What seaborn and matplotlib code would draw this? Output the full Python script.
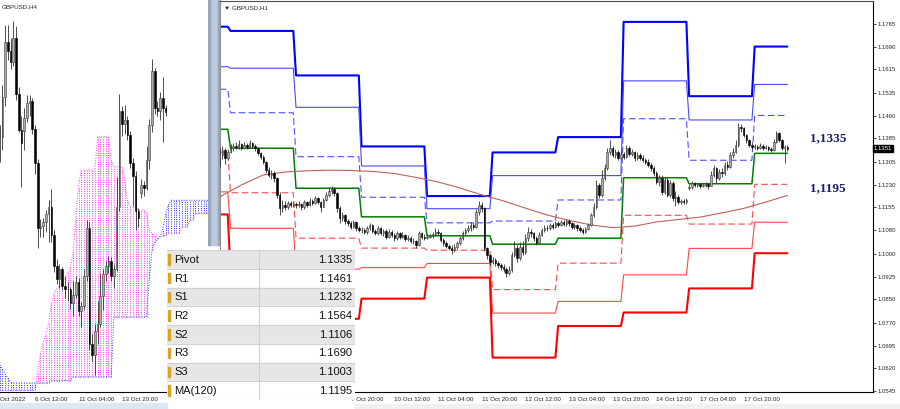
import numpy as np
import pandas as pd
import seaborn as sns
import matplotlib.pyplot as plt
from matplotlib.patches import Rectangle

sns.set_style('white')
plt.rcParams['font.family'] = ['Liberation Sans', 'DejaVu Sans']

# ---------------- data ----------------
# H1 bars: bar 0 = 6 Oct 00:00, last bar 204 = 18 Oct 12:00
day_bars = [4, 24, 24, 24, 24, 24, 24, 24, 24, 13]  # 5 Oct tail, 6,7,10,11,12,13,14,17,18 Oct
r3 = [1.1756, 1.1742, 1.1594, 1.1358, 1.1193, 1.1338, 1.1389, 1.1772, 1.1525, 1.1690]
r2 = [1.1623, 1.1618, 1.1488, 1.1293, 1.1151, 1.1261, 1.1261, 1.1576, 1.1446, 1.1564]
r1 = [1.1548, 1.1470, 1.1324, 1.1189, 1.1104, 1.1110, 1.1180, 1.1450, 1.1312, 1.1461]
pivot = [1.1415, 1.1352, 1.1219, 1.1124, 1.1061, 1.1033, 1.1053, 1.1254, 1.1234, 1.1335]
s1 = [1.1339, 1.1204, 1.1053, 1.1020, 1.1013, 1.0882, 1.0970, 1.1129, 1.1100, 1.1232]
s2 = [1.1207, 1.1086, 1.0950, 1.0955, 1.0969, 1.0804, 1.0843, 1.0931, 1.1019, 1.1106]
s3 = [1.1132, 1.0938, 1.0785, 1.0852, 1.0922, 1.0656, 1.0761, 1.0806, 1.0886, 1.1003]

h1_close = [
    1.1330, 1.1346, 1.1318, 1.1341,
    1.1352, 1.1361, 1.1357, 1.1365, 1.1354, 1.1363, 1.1357, 1.1368, 1.1361, 1.1352, 1.1335, 1.1324,
    1.1307, 1.1280, 1.1263, 1.1269, 1.1252, 1.1197, 1.1152, 1.1163, 1.1158, 1.1169, 1.1163, 1.1166,
    1.1162, 1.1166, 1.1155, 1.1172, 1.1163, 1.1177, 1.1169, 1.1185, 1.1172, 1.1158, 1.1180, 1.1197,
    1.1210, 1.1217, 1.1202, 1.1152, 1.1119, 1.1130, 1.1110, 1.1102, 1.1091, 1.1106, 1.1086, 1.1080,
    1.1080, 1.1075, 1.1086, 1.1097, 1.1077, 1.1069, 1.1086, 1.1069, 1.1077, 1.1058, 1.1075, 1.1064,
    1.1053, 1.1069, 1.1058, 1.1064, 1.1050, 1.1055, 1.1044, 1.1042, 1.1031, 1.1069, 1.1058, 1.1055,
    1.1058, 1.1061, 1.1066, 1.1075, 1.1069, 1.1047, 1.1036, 1.1028, 1.1022, 1.1014, 1.1025, 1.1036,
    1.1053, 1.1069, 1.1080, 1.1086, 1.1097, 1.1091, 1.1141, 1.1163, 1.1152, 1.1019, 1.0997, 1.0975,
    1.0981, 1.0969, 1.0964, 1.0958, 1.0951, 1.0936, 1.0947, 1.0997, 1.1019, 1.0986, 1.1025, 1.1008,
    1.1053, 1.1075, 1.1069, 1.1053, 1.1036, 1.1064, 1.1080, 1.1088, 1.1086, 1.1097, 1.1091, 1.1102,
    1.1097, 1.1106, 1.1099, 1.1110, 1.1102, 1.1091, 1.1097, 1.1086, 1.1080, 1.1075, 1.1084, 1.1097,
    1.1130, 1.1158, 1.1230, 1.1197, 1.1252, 1.1285, 1.1341, 1.1352, 1.1330, 1.1338, 1.1321, 1.1332,
    1.1324, 1.1352, 1.1332, 1.1338, 1.1318, 1.1330, 1.1321, 1.1313, 1.1307, 1.1296, 1.1285, 1.1269,
    1.1241, 1.1252, 1.1208, 1.1247, 1.1197, 1.1235, 1.1185, 1.1191, 1.1172, 1.1177, 1.1172, 1.1180,
    1.1224, 1.1235, 1.1230, 1.1232, 1.1228, 1.1230, 1.1234, 1.1228, 1.1263, 1.1285, 1.1252, 1.1274,
    1.1269, 1.1296, 1.1291, 1.1330, 1.1341, 1.1363, 1.1424, 1.1418, 1.1396, 1.1379, 1.1363, 1.1357,
    1.1357, 1.1354, 1.1361, 1.1352, 1.1356, 1.1349, 1.1346, 1.1374, 1.1402, 1.1379, 1.1352, 1.1357,
    1.1351,
]
h1_high = [
    1.1352, 1.1358, 1.1352, 1.1350,
    1.1366, 1.1370, 1.1372, 1.1378, 1.1370, 1.1372, 1.1370, 1.1378, 1.1374, 1.1366, 1.1356, 1.1340,
    1.1330, 1.1310, 1.1288, 1.1280, 1.1275, 1.1255, 1.1205, 1.1180, 1.1175, 1.1178, 1.1175, 1.1174,
    1.1172, 1.1176, 1.1170, 1.1180, 1.1178, 1.1186, 1.1182, 1.1192, 1.1190, 1.1178, 1.1188, 1.1208,
    1.1222, 1.1226, 1.1222, 1.1208, 1.1160, 1.1140, 1.1135, 1.1118, 1.1110, 1.1113, 1.1110, 1.1095,
    1.1090, 1.1088, 1.1094, 1.1105, 1.1100, 1.1085, 1.1094, 1.1090, 1.1085, 1.1082, 1.1082, 1.1080,
    1.1070, 1.1076, 1.1074, 1.1072, 1.1068, 1.1064, 1.1060, 1.1055, 1.1048, 1.1078, 1.1074, 1.1066,
    1.1066, 1.1068, 1.1074, 1.1086, 1.1082, 1.1072, 1.1052, 1.1042, 1.1035, 1.1030, 1.1032, 1.1044,
    1.1060, 1.1076, 1.1088, 1.1097, 1.1106, 1.1108, 1.1150, 1.1176, 1.1172, 1.1158, 1.1025, 1.1002,
    1.0992, 1.0988, 1.0978, 1.0972, 1.0966, 1.0958, 1.0960, 1.1008, 1.1045, 1.1030, 1.1040, 1.1045,
    1.1066, 1.1090, 1.1082, 1.1075, 1.1060, 1.1072, 1.1088, 1.1096, 1.1096, 1.1104, 1.1104, 1.1110,
    1.1110, 1.1114, 1.1112, 1.1118, 1.1116, 1.1106, 1.1104, 1.1100, 1.1092, 1.1088, 1.1090, 1.1104,
    1.1138, 1.1170, 1.1245, 1.1236, 1.1280, 1.1300, 1.1352, 1.1380, 1.1360, 1.1350, 1.1345, 1.1340,
    1.1340, 1.1362, 1.1358, 1.1348, 1.1344, 1.1340, 1.1336, 1.1330, 1.1320, 1.1315, 1.1302, 1.1292,
    1.1276, 1.1262, 1.1262, 1.1258, 1.1255, 1.1246, 1.1242, 1.1210, 1.1196, 1.1184, 1.1182, 1.1186,
    1.1232, 1.1242, 1.1240, 1.1238, 1.1236, 1.1236, 1.1240, 1.1238, 1.1275, 1.1296, 1.1290, 1.1282,
    1.1286, 1.1305, 1.1310, 1.1340, 1.1352, 1.1380, 1.1436, 1.1434, 1.1422, 1.1400, 1.1384, 1.1372,
    1.1366, 1.1364, 1.1368, 1.1366, 1.1364, 1.1360, 1.1356, 1.1384, 1.1408, 1.1405, 1.1384, 1.1364,
    1.1362,
]
h1_low = [
    1.1290, 1.1316, 1.1300, 1.1312,
    1.1335, 1.1344, 1.1348, 1.1350, 1.1345, 1.1348, 1.1350, 1.1352, 1.1354, 1.1342, 1.1328, 1.1315,
    1.1298, 1.1270, 1.1255, 1.1250, 1.1240, 1.1185, 1.1130, 1.1140, 1.1148, 1.1150, 1.1155, 1.1157,
    1.1152, 1.1155, 1.1148, 1.1150, 1.1156, 1.1160, 1.1162, 1.1165, 1.1165, 1.1140, 1.1155, 1.1175,
    1.1190, 1.1200, 1.1192, 1.1140, 1.1105, 1.1110, 1.1100, 1.1092, 1.1083, 1.1086, 1.1078, 1.1072,
    1.1070, 1.1066, 1.1068, 1.1080, 1.1070, 1.1062, 1.1064, 1.1062, 1.1060, 1.1050, 1.1052, 1.1056,
    1.1045, 1.1048, 1.1050, 1.1052, 1.1042, 1.1044, 1.1036, 1.1032, 1.1020, 1.1028, 1.1050, 1.1048,
    1.1049, 1.1052, 1.1055, 1.1060, 1.1062, 1.1040, 1.1028, 1.1020, 1.1014, 1.1002, 1.1008, 1.1018,
    1.1030, 1.1048, 1.1060, 1.1072, 1.1078, 1.1082, 1.1088, 1.1130, 1.1140, 1.1010, 1.0985, 1.0965,
    1.0968, 1.0960, 1.0955, 1.0948, 1.0940, 1.0925, 1.0930, 1.0942, 1.0990, 1.0975, 1.0980, 1.0998,
    1.1002, 1.1045, 1.1058, 1.1045, 1.1030, 1.1034, 1.1060, 1.1072, 1.1078, 1.1080, 1.1084, 1.1086,
    1.1090, 1.1092, 1.1092, 1.1095, 1.1095, 1.1084, 1.1085, 1.1078, 1.1072, 1.1066, 1.1070, 1.1080,
    1.1094, 1.1125, 1.1150, 1.1185, 1.1190, 1.1245, 1.1280, 1.1330, 1.1322, 1.1320, 1.1312, 1.1315,
    1.1316, 1.1320, 1.1325, 1.1326, 1.1310, 1.1312, 1.1314, 1.1305, 1.1298, 1.1288, 1.1276, 1.1260,
    1.1232, 1.1225, 1.1198, 1.1200, 1.1190, 1.1190, 1.1176, 1.1160, 1.1165, 1.1168, 1.1166, 1.1168,
    1.1212, 1.1218, 1.1222, 1.1224, 1.1220, 1.1222, 1.1224, 1.1215, 1.1225, 1.1255, 1.1238, 1.1245,
    1.1258, 1.1262, 1.1280, 1.1285, 1.1318, 1.1335, 1.1355, 1.1405, 1.1388, 1.1370, 1.1355, 1.1348,
    1.1350, 1.1346, 1.1350, 1.1345, 1.1348, 1.1342, 1.1338, 1.1344, 1.1370, 1.1372, 1.1345, 1.1302,
    1.1344,
]
h1_session_open = {-4: 1.1320, 168: 1.1220}

ma120_bar = [-4, 4, 12, 20, 28, 36, 44, 52, 60, 68, 76, 84, 92, 100, 108, 116, 124, 132, 140,
             148, 156, 164, 172, 180, 188, 196, 204]
ma120 = [1.1190, 1.1230, 1.1263, 1.1273, 1.1277, 1.1279, 1.1278, 1.1275, 1.1268, 1.1255, 1.1240,
         1.1220, 1.1197, 1.1177, 1.1153, 1.1130, 1.1112, 1.1097, 1.1088, 1.1093, 1.1107, 1.1115,
         1.1123, 1.1137, 1.1152, 1.1173, 1.1195]

h1_tick_bar = [44, 60, 76, 92, 108, 124, 140, 156, 172, 188]
h1_tick_lab = ['7 Oct 20:00', '10 Oct 12:00', '11 Oct 04:00', '11 Oct 20:00', '12 Oct 12:00',
               '13 Oct 04:00', '13 Oct 20:00', '14 Oct 12:00', '17 Oct 04:00', '17 Oct 20:00']
price_ticks = [1.1765, 1.1690, 1.1615, 1.1535, 1.1460, 1.1385, 1.1305, 1.1230, 1.1155, 1.1080,
               1.1000, 1.0925, 1.0850, 1.0770, 1.0695, 1.0620, 1.0545]

# H4: bar 0 = 6 Oct 12:00. Bars -13..-5 read directly, later ones built from H1
h4_early_bar = [-13, -12, -11, -10, -9, -8, -7, -6, -5]
h4_early_open = [1.1290, 1.1310, 1.1375, 1.1465, 1.1450, 1.1432, 1.1470, 1.1380, 1.1322]
h4_early_high = [1.1330, 1.1395, 1.1492, 1.1492, 1.1470, 1.1498, 1.1490, 1.1392, 1.1345]
h4_early_low = [1.1270, 1.1290, 1.1360, 1.1435, 1.1420, 1.1425, 1.1370, 1.1318, 1.1230]
h4_early_close = [1.1310, 1.1375, 1.1465, 1.1450, 1.1432, 1.1470, 1.1380, 1.1322, 1.1300]
h4_tick_bar = [0, 16, 32]
h4_tick_lab = ['6 Oct 12:00', '11 Oct 04:00', '13 Oct 20:00']

# Ichimoku cloud (H4 bars -13..64)
senkou_a = ([1.0941, 1.0935, 1.0927, 1.0920, 1.0914] + [1.0912] * 14 + [1.0916] * 8 + [1.0922] * 15
            + [1.1019] * 13 + [1.1080, 1.1127, 1.1140, 1.1145, 1.1149, 1.1160, 1.1185, 1.1200]
            + [1.1208] * 15)
senkou_b = ([1.0900] * 14 + [1.0930, 1.0960, 1.0977, 1.0990, 1.1009, 1.1040, 1.1057, 1.1065, 1.1070,
                             1.1075, 1.1079, 1.1090, 1.1100, 1.1122, 1.1180, 1.1230]
            + [1.1257] * 6 + [1.1311] * 5 + [1.1273] + [1.1262] * 4 + [1.1240, 1.1208] + [1.1197] * 3
            + [1.1192] * 3 + [1.1187, 1.1160, 1.1155] + [1.1149] * 3 + [1.1150, 1.1152] + [1.1155] * 5
            + [1.1165] * 3 + [1.1176] * 2 + [1.1187] * 6)

table_names = ['Pivot', 'R1', 'S1', 'R2', 'S2', 'R3', 'S3', 'MA(120)']
table_values = ['1.1335', '1.1461', '1.1232', '1.1564', '1.1106', '1.1690', '1.1003', '1.1195']

# ---------------- frames ----------------
h1 = pd.DataFrame({'bar': np.arange(-4, 205), 'close': h1_close, 'high': h1_high, 'low': h1_low})
h1['open'] = h1['close'].shift(1)
for b, o in h1_session_open.items():
    h1.loc[h1['bar'] == b, 'open'] = o
h1['h4'] = h1['bar'] // 4 - 3
h4_late = h1.groupby('h4').agg(open=('open', 'first'), high=('high', 'max'),
                               low=('low', 'min'), close=('close', 'last')).reset_index()
h4_first = pd.DataFrame({'h4': h4_early_bar, 'open': h4_early_open, 'high': h4_early_high,
                         'low': h4_early_low, 'close': h4_early_close})
h4 = pd.concat([h4_first, h4_late], ignore_index=True)

levels = pd.DataFrame({'bar': h1['bar']})
for name, vals in [('r3', r3), ('r2', r2), ('r1', r1), ('p', pivot), ('s1', s1), ('s2', s2), ('s3', s3)]:
    levels[name] = np.repeat(vals, day_bars)

cloud = pd.DataFrame({'bar': np.arange(-13, 65), 'a': senkou_a, 'b': senkou_b})


def candles(ax, x, o, h, l, c, width):
    x, o, h, l, c = [np.asarray(v, dtype=float) for v in (x, o, h, l, c)]
    up = c >= o
    ax.vlines(x, l, h, color='#303030', lw=0.6, zorder=4)
    lo = np.minimum(o, c)
    ht = np.maximum(np.abs(c - o), 0.0001)
    ax.bar(x[up], ht[up], width, bottom=lo[up], color='#ababab', edgecolor='#3a3a3a', lw=0.4, zorder=5)
    ax.bar(x[~up], ht[~up], width, bottom=lo[~up], color='black', edgecolor='black', lw=0.4, zorder=5)


W, H = 900, 409
fig = plt.figure(figsize=(9, 4.09), dpi=100)


def px_axes(x0, y0, x1, y1, z):
    return fig.add_axes([x0 / W, 1 - y1 / H, (x1 - x0) / W, (y1 - y0) / H], zorder=z)


# background bits: splitter and bottom strips
bg = fig.add_axes([0, 0, 1, 1], zorder=0)
bg.set_xlim(0, W)
bg.set_ylim(H, 0)
bg.axis('off')
bg.add_patch(Rectangle((208, 0), 12, 245, color='#bccadb'))
bg.add_patch(Rectangle((208, 0), 2, 245, color='#97a6b8'))
bg.add_patch(Rectangle((218, 0), 2, 245, color='#97a6b8'))
bg.add_patch(Rectangle((0, 403), 167, 6, color='#dde7f1'))
bg.add_patch(Rectangle((355, 404), 545, 5, color='#f0f0f0'))

# ---------------- left: H4 with cloud ----------------
axl = px_axes(0, 0, 208, 392, 1)
axl.set_xlim(-12.87, 63.6)
axl.set_ylim(1.08975, 1.15323)
bull = cloud['a'] >= cloud['b']
axl.vlines(cloud['bar'][bull], cloud['b'][bull], cloud['a'][bull], color='#3030ff', lw=0.7,
           linestyles=(0, (1, 1.3)), zorder=1)
axl.vlines(cloud['bar'][~bull], cloud['a'][~bull], cloud['b'][~bull], color='#ff30ff', lw=0.7,
           linestyles=(0, (1, 1.3)), zorder=1)
sns.lineplot(data=cloud, x='bar', y='a', ax=axl, color='#3030ff', lw=0.7, linestyle=':',
             estimator=None, sort=False, zorder=2)
sns.lineplot(data=cloud, x='bar', y='b', ax=axl, color='#ff30ff', lw=0.7, linestyle=':',
             estimator=None, sort=False, zorder=2)
candles(axl, h4['h4'], h4['open'], h4['high'], h4['low'], h4['close'], 0.6)
for sp in ['top', 'left', 'right']:
    axl.spines[sp].set_visible(False)
axl.spines['bottom'].set_color('black')
axl.spines['bottom'].set_linewidth(0.8)
axl.set_yticks([])
axl.set_xticks(h4_tick_bar)
axl.set_xticklabels(h4_tick_lab, fontsize=4.5, ha='left')
axl.tick_params(axis='x', length=2, pad=1.5, width=0.6)
axl.text(0.002, -0.012, 'Oct 2022', transform=axl.transAxes, fontsize=4.5,
         ha='left', va='top', clip_on=False)
axl.text(0.008, 0.988, 'GBPUSD,H4', transform=axl.transAxes, fontsize=4.5, va='top')
axl.set_xlabel('')
axl.set_ylabel('')

# ---------------- right: H1 with pivot levels ----------------
ax = px_axes(220, 1, 873, 392, 2)
ax.set_xlim(-3.85, 235.35)
ax.set_ylim(1.054166, 1.184146)
line_styles = [
    ('r3', '#0000ff', 1.5, '-'), ('r2', '#4848ff', 0.8, '-'), ('r1', '#5050ff', 0.8, (0, (6, 3))),
    ('p', '#008000', 1.1, '-'), ('s1', '#ff4a4a', 0.8, (0, (6, 3))), ('s2', '#ff4545', 0.8, '-'),
    ('s3', '#ff0000', 1.5, '-'),
]
for name, col, lw, ls in line_styles:
    sns.lineplot(data=levels, x='bar', y=name, ax=ax, color=col, lw=lw, linestyle=ls,
                 estimator=None, sort=False, zorder=2)
sns.lineplot(x=ma120_bar, y=ma120, ax=ax, color='#c0605a', lw=0.8, estimator=None, sort=False, zorder=3)
candles(ax, h1['bar'], h1['open'], h1['high'], h1['low'], h1['close'], 0.55)

ax.yaxis.tick_right()
ax.set_yticks(price_ticks)
ax.set_yticklabels([f'{v:.4f}' for v in price_ticks], fontsize=4.3)
ax.set_xticks(h1_tick_bar)
ax.set_xticklabels(h1_tick_lab, fontsize=4.5, ha='left')
ax.tick_params(axis='both', length=2, pad=1.5, width=0.6)
ax.set_xlabel('')
ax.set_ylabel('')
ax.spines['top'].set_color('#505050')
ax.spines['left'].set_color('#909090')
for sp in ['right', 'bottom']:
    ax.spines[sp].set_color('black')
for sp in ax.spines.values():
    sp.set_linewidth(0.8)

ax.text(0.006, 0.988, '\u25BC GBPUSD,H1', transform=ax.transAxes, fontsize=4.5, va='top')
ax.text(1.0015, h1_close[-1], f'{h1_close[-1]:.4f}', transform=ax.get_yaxis_transform(),
        fontsize=4.3, color='white', va='center', ha='left',
        bbox=dict(boxstyle='square,pad=0.15', fc='black', ec='black'))
ax.text(218.9, 1.1386, '1,1335', fontsize=9.5, fontweight='bold', family='Liberation Serif',
        color='#1c1c6e', ha='center', va='center')
ax.text(218.9, 1.1220, '1,1195', fontsize=9.5, fontweight='bold', family='Liberation Serif',
        color='#1c1c6e', ha='center', va='center')

# ---------------- levels table ----------------
axt = px_axes(167, 250, 355, 400, 3)
axt.set_xlim(0, 188)
axt.set_ylim(len(table_names), 0)
axt.axis('off')
for i, (nm, val) in enumerate(zip(table_names, table_values)):
    axt.add_patch(Rectangle((0, i), 188, 1, color='#e6e6e6' if i % 2 == 0 else 'white', zorder=1))
    axt.plot([0, 188], [i, i], color='#d2d2d2', lw=0.8, zorder=2)
    axt.add_patch(Rectangle((0.5, i + 0.22), 2.2, 0.56, color='#d9a521', zorder=3))
    axt.text(7, i + 0.52, nm, fontsize=8, va='center', ha='left', color='#111111', zorder=4)
    axt.text(185, i + 0.52, val, fontsize=8, va='center', ha='right', color='#111111', zorder=4)
axt.plot([0, 188], [len(table_names), len(table_names)], color='#d2d2d2', lw=0.8)
axt.plot([92, 92], [0, len(table_names)], color='#cfcfcf', lw=0.8)

fig.savefig('out.png', dpi=100)
